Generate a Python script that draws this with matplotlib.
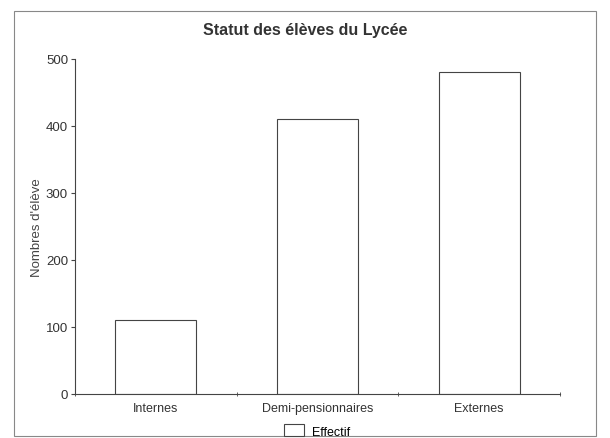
import matplotlib.pyplot as plt
from matplotlib.patches import Rectangle

plt.rcParams['font.family'] = ['Liberation Sans', 'DejaVu Sans']

# data
categories = ['Internes', 'Demi-pensionnaires', 'Externes']
effectif = [110, 410, 480]

fig = plt.figure(figsize=(6.1, 4.39), dpi=100)
fig.patch.set_facecolor('white')

# outer frame
fig.patches.append(Rectangle((14 / 610, 0.004), 582 / 610, 1 - 12 / 439 - 0.004,
                             transform=fig.transFigure, fill=False,
                             edgecolor='#888888', linewidth=0.8))

ax = fig.add_axes([75 / 610, 1 - 395 / 439, 485 / 610, 335 / 439])
x = range(len(categories))
ax.bar(x, effectif, width=0.5, color='white', edgecolor='#444444',
       linewidth=0.8, label='Effectif')

ax.set_xlim(-0.5, 2.5)
ax.set_ylim(0, 500)
ax.set_yticks([0, 100, 200, 300, 400, 500])
ax.set_xticks(list(x))
ax.set_xticklabels(categories, fontsize=9, color='#333333')
ax.tick_params(axis='x', length=0, pad=6)
ax.set_xticks([-0.5, 0.5, 1.5, 2.5], minor=True)
ax.tick_params(axis='x', which='minor', length=3, direction='inout', color='#444444')
ax.tick_params(axis='y', length=3, labelsize=9.5, labelcolor='#333333',
               color='#444444', pad=2)

for s in ['top', 'right']:
    ax.spines[s].set_visible(False)
for s in ['left', 'bottom']:
    ax.spines[s].set_color('#444444')
    ax.spines[s].set_linewidth(0.8)

ax.set_ylabel("Nombres d'élève", fontsize=9.5, color='#444444', labelpad=2)
fig.text(0.5, 1 - 30 / 439, 'Statut des élèves du Lycée', ha='center', va='center',
         fontsize=11.5, fontweight='bold', color='#333333')

fig.legend(loc='center', bbox_to_anchor=(0.52, 1 - 432 / 439), frameon=False,
           fontsize=9, handlelength=1.6, handleheight=1.1, handletextpad=0.6)

fig.savefig('out.png', dpi=100)
